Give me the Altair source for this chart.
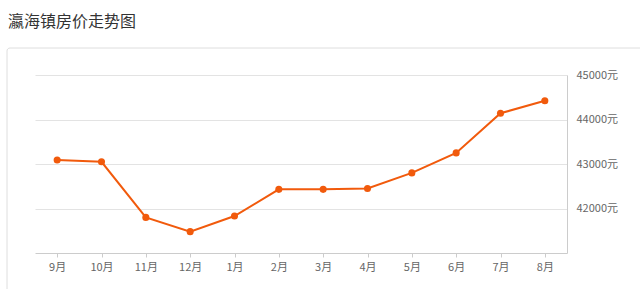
import altair as alt
import pandas as pd

months = ["9月", "10月", "11月", "12月", "1月", "2月", "3月", "4月", "5月", "6月", "7月", "8月"]
prices = [43090, 43050, 41800, 41480, 41830, 42430, 42430, 42450, 42800, 43250, 44140, 44420]
y_ticks = [42000, 43000, 44000, 45000]

df = pd.DataFrame({"month": months, "price": prices})
FONT = "Noto Sans CJK SC"
ORANGE = "#f15a0c"

xenc = alt.X("month:N", sort=months, scale=alt.Scale(type="point", padding=0.5),
             axis=alt.Axis(title=None, labelColor="#666", labelFontSize=11, labelFont=FONT,
                           domainColor="#ccc", tickColor="#ccc", tickSize=4, labelPadding=4,
                           grid=False, labelAngle=0))
yenc = alt.Y("price:Q", scale=alt.Scale(domain=[41000, 45000], nice=False, zero=False),
             axis=alt.Axis(title=None, orient="right", values=y_ticks,
                           labelExpr="datum.value + '元'", labelColor="#666",
                           labelFontSize=11, labelFont=FONT, ticks=False, labelPadding=9,
                           domainColor="#ccc", gridColor="#e3e3e3"))

box = alt.Chart(pd.DataFrame({"a": [0]})).mark_rect(
    fill="transparent", stroke="#dedede", strokeWidth=1, cornerRadius=3
).encode(x=alt.value(-28), x2=alt.value(640), y=alt.value(-27), y2=alt.value(300))

line = alt.Chart(df).mark_line(color=ORANGE, strokeWidth=2).encode(x=xenc, y=yenc)
pts = alt.Chart(df).mark_circle(color=ORANGE, size=50, opacity=1).encode(x=xenc, y=yenc)

chart = alt.layer(box, line, pts).properties(
    width=532, height=178,
    background="white",
    title=alt.TitleParams("瀛海镇房价走势图", anchor="start", frame="group", font=FONT,
                          fontSize=16, fontWeight="normal", color="#333", dx=-27, offset=18),
    autosize=alt.AutoSizeParams(type="none"),
    padding={"left": 35, "top": 75, "right": 73, "bottom": 36},
).configure_view(stroke="transparent", strokeWidth=0)

chart.save("out.html", embed_options={"renderer": "svg", "actions": False})
